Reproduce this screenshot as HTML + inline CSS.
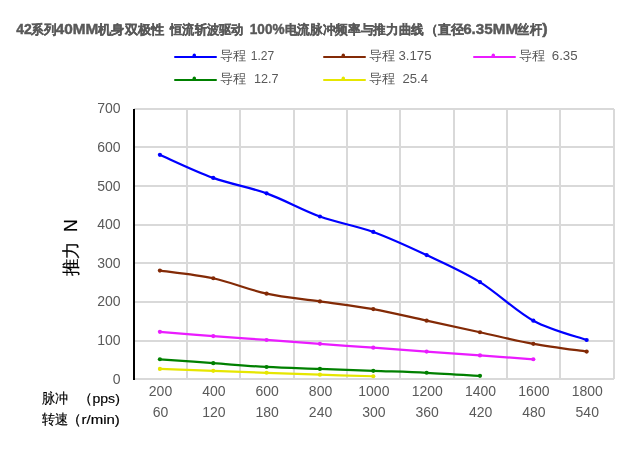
<!DOCTYPE html>
<html><head><meta charset="utf-8"><style>
html,body{margin:0;padding:0;background:#fff;}
body{width:640px;height:450px;overflow:hidden;position:relative;font-family:"Liberation Sans",sans-serif;}
svg{position:absolute;left:0;top:0;will-change:transform;}
.ax{font-size:14px;fill:#595959;}
.lg{font-size:13px;fill:#595959;}
.tt{font-size:13px;font-weight:bold;fill:#595959;stroke:#595959;stroke-width:0.3px;}
.ttl{font-size:14.6px;font-weight:bold;fill:#595959;stroke:#595959;stroke-width:0.45px;}
.bk{font-size:13.5px;fill:#000;stroke:#000;stroke-width:0.2px;}
.yt{font-size:17.5px;fill:#000;stroke:#000;stroke-width:0.2px;}
</style></head><body>
<svg width="640" height="450" viewBox="0 0 640 450">
<text x="16.30" y="34.20" class="ttl" textLength="15.50" lengthAdjust="spacingAndGlyphs" xml:space="preserve">42</text>
<text x="31.30" y="33.90" class="tt" textLength="25.10" lengthAdjust="spacingAndGlyphs" xml:space="preserve">系列</text>
<text x="55.65" y="34.20" class="ttl" textLength="42.65" lengthAdjust="spacingAndGlyphs" xml:space="preserve">40MM</text>
<text x="98.00" y="33.90" class="tt" textLength="66.25" lengthAdjust="spacingAndGlyphs" xml:space="preserve">机身双极性</text>
<text x="170.10" y="33.90" class="tt" textLength="73.50" lengthAdjust="spacingAndGlyphs" xml:space="preserve">恒流斩波驱动</text>
<text x="249.80" y="34.20" class="ttl" textLength="34.70" lengthAdjust="spacingAndGlyphs" xml:space="preserve">100%</text>
<text x="284.75" y="33.90" class="tt" textLength="139.25" lengthAdjust="spacingAndGlyphs" xml:space="preserve">电流脉冲频率与推力曲线</text>
<text x="424.60" y="33.90" class="tt" textLength="12.90" lengthAdjust="spacingAndGlyphs" xml:space="preserve">（</text>
<text x="437.60" y="33.90" class="tt" textLength="25.90" lengthAdjust="spacingAndGlyphs" xml:space="preserve">直径</text>
<text x="463.15" y="34.20" class="ttl" textLength="54.90" lengthAdjust="spacingAndGlyphs" xml:space="preserve">6.35MM</text>
<text x="517.25" y="33.90" class="tt" textLength="24.50" lengthAdjust="spacingAndGlyphs" xml:space="preserve">丝杆</text>
<text x="542.30" y="34.20" class="ttl" textLength="5.40" lengthAdjust="spacingAndGlyphs" xml:space="preserve">)</text>
<rect x="134" y="378" width="480" height="2" fill="#d9d9d9"/>
<rect x="134" y="340" width="480" height="2" fill="#d9d9d9"/>
<rect x="134" y="301" width="480" height="2" fill="#d9d9d9"/>
<rect x="134" y="262" width="480" height="2" fill="#d9d9d9"/>
<rect x="134" y="224" width="480" height="2" fill="#d9d9d9"/>
<rect x="134" y="185" width="480" height="2" fill="#d9d9d9"/>
<rect x="134" y="146" width="480" height="2" fill="#d9d9d9"/>
<rect x="134" y="108" width="480" height="2" fill="#d9d9d9"/>
<rect x="186" y="109" width="2" height="270" fill="#d9d9d9"/>
<rect x="239" y="109" width="2" height="270" fill="#d9d9d9"/>
<rect x="293" y="109" width="2" height="270" fill="#d9d9d9"/>
<rect x="346" y="109" width="2" height="270" fill="#d9d9d9"/>
<rect x="399" y="109" width="2" height="270" fill="#d9d9d9"/>
<rect x="453" y="109" width="2" height="270" fill="#d9d9d9"/>
<rect x="506" y="109" width="2" height="270" fill="#d9d9d9"/>
<rect x="559" y="109" width="2" height="270" fill="#d9d9d9"/>
<rect x="613" y="109" width="2" height="270" fill="#d9d9d9"/>
<rect x="133" y="109" width="2" height="271" fill="#000"/>
<path d="M159.90,154.78 C168.79,158.64 195.47,171.50 213.25,177.93 C231.03,184.36 248.81,186.93 266.59,193.36 C284.38,199.79 302.16,210.08 319.94,216.51 C337.72,222.94 355.50,225.51 373.28,231.95 C391.07,238.38 408.85,246.74 426.63,255.09 C444.41,263.45 462.19,271.17 479.98,282.10 C497.76,293.03 515.54,311.04 533.32,320.69 C551.10,330.33 577.78,336.76 586.67,339.98" fill="none" stroke="#0000ff" stroke-width="2.25" stroke-linecap="round"/>
<circle cx="159.90" cy="154.78" r="2.1" fill="#0000ff"/>
<circle cx="213.25" cy="177.93" r="2.1" fill="#0000ff"/>
<circle cx="266.59" cy="193.36" r="2.1" fill="#0000ff"/>
<circle cx="319.94" cy="216.51" r="2.1" fill="#0000ff"/>
<circle cx="373.28" cy="231.95" r="2.1" fill="#0000ff"/>
<circle cx="426.63" cy="255.09" r="2.1" fill="#0000ff"/>
<circle cx="479.98" cy="282.10" r="2.1" fill="#0000ff"/>
<circle cx="533.32" cy="320.69" r="2.1" fill="#0000ff"/>
<circle cx="586.67" cy="339.98" r="2.1" fill="#0000ff"/>
<path d="M159.90,270.53 C168.79,271.81 195.47,274.39 213.25,278.24 C231.03,282.10 248.81,289.82 266.59,293.68 C284.38,297.54 302.16,298.82 319.94,301.39 C337.72,303.97 355.50,305.90 373.28,309.11 C391.07,312.33 408.85,316.83 426.63,320.69 C444.41,324.54 462.19,328.40 479.98,332.26 C497.76,336.12 515.54,340.62 533.32,343.84 C551.10,347.05 577.78,350.27 586.67,351.55" fill="none" stroke="#832a06" stroke-width="2.25" stroke-linecap="round"/>
<circle cx="159.90" cy="270.53" r="2.1" fill="#832a06"/>
<circle cx="213.25" cy="278.24" r="2.1" fill="#832a06"/>
<circle cx="266.59" cy="293.68" r="2.1" fill="#832a06"/>
<circle cx="319.94" cy="301.39" r="2.1" fill="#832a06"/>
<circle cx="373.28" cy="309.11" r="2.1" fill="#832a06"/>
<circle cx="426.63" cy="320.69" r="2.1" fill="#832a06"/>
<circle cx="479.98" cy="332.26" r="2.1" fill="#832a06"/>
<circle cx="533.32" cy="343.84" r="2.1" fill="#832a06"/>
<circle cx="586.67" cy="351.55" r="2.1" fill="#832a06"/>
<path d="M159.90,331.87 C168.79,332.58 195.47,334.77 213.25,336.12 C231.03,337.47 248.81,338.69 266.59,339.98 C284.38,341.26 302.16,342.55 319.94,343.84 C337.72,345.12 355.50,346.41 373.28,347.69 C391.07,348.98 408.85,350.27 426.63,351.55 C444.41,352.84 462.19,354.12 479.98,355.41 C497.76,356.70 524.43,358.63 533.32,359.27" fill="none" stroke="#ea1cff" stroke-width="2.25" stroke-linecap="round"/>
<circle cx="159.90" cy="331.87" r="2.1" fill="#ea1cff"/>
<circle cx="213.25" cy="336.12" r="2.1" fill="#ea1cff"/>
<circle cx="266.59" cy="339.98" r="2.1" fill="#ea1cff"/>
<circle cx="319.94" cy="343.84" r="2.1" fill="#ea1cff"/>
<circle cx="373.28" cy="347.69" r="2.1" fill="#ea1cff"/>
<circle cx="426.63" cy="351.55" r="2.1" fill="#ea1cff"/>
<circle cx="479.98" cy="355.41" r="2.1" fill="#ea1cff"/>
<circle cx="533.32" cy="359.27" r="2.1" fill="#ea1cff"/>
<path d="M159.90,359.27 C168.79,359.91 195.47,361.84 213.25,363.13 C231.03,364.41 248.81,366.02 266.59,366.99 C284.38,367.95 302.16,368.27 319.94,368.91 C337.72,369.56 355.50,370.20 373.28,370.84 C391.07,371.49 408.85,371.94 426.63,372.77 C444.41,373.61 471.09,375.34 479.98,375.86" fill="none" stroke="#008000" stroke-width="2.25" stroke-linecap="round"/>
<circle cx="159.90" cy="359.27" r="2.1" fill="#008000"/>
<circle cx="213.25" cy="363.13" r="2.1" fill="#008000"/>
<circle cx="266.59" cy="366.99" r="2.1" fill="#008000"/>
<circle cx="319.94" cy="368.91" r="2.1" fill="#008000"/>
<circle cx="373.28" cy="370.84" r="2.1" fill="#008000"/>
<circle cx="426.63" cy="372.77" r="2.1" fill="#008000"/>
<circle cx="479.98" cy="375.86" r="2.1" fill="#008000"/>
<path d="M159.90,368.91 C168.79,369.24 195.47,370.20 213.25,370.84 C231.03,371.49 248.81,372.13 266.59,372.77 C284.38,373.42 302.16,374.12 319.94,374.70 C337.72,375.28 364.39,375.99 373.28,376.25" fill="none" stroke="#e6e600" stroke-width="2.25" stroke-linecap="round"/>
<circle cx="159.90" cy="368.91" r="2.1" fill="#e6e600"/>
<circle cx="213.25" cy="370.84" r="2.1" fill="#e6e600"/>
<circle cx="266.59" cy="372.77" r="2.1" fill="#e6e600"/>
<circle cx="319.94" cy="374.70" r="2.1" fill="#e6e600"/>
<circle cx="373.28" cy="376.25" r="2.1" fill="#e6e600"/>
<text x="120.6" y="383.56" text-anchor="end" class="ax">0</text>
<text x="120.6" y="344.98" text-anchor="end" class="ax">100</text>
<text x="120.6" y="306.39" text-anchor="end" class="ax">200</text>
<text x="120.6" y="267.81" text-anchor="end" class="ax">300</text>
<text x="120.6" y="229.23" text-anchor="end" class="ax">400</text>
<text x="120.6" y="190.65" text-anchor="end" class="ax">500</text>
<text x="120.6" y="152.06" text-anchor="end" class="ax">600</text>
<text x="120.6" y="113.48" text-anchor="end" class="ax">700</text>
<text x="160.50" y="396.1" text-anchor="middle" class="ax">200</text>
<text x="160.50" y="417.2" text-anchor="middle" class="ax">60</text>
<text x="213.85" y="396.1" text-anchor="middle" class="ax">400</text>
<text x="213.85" y="417.2" text-anchor="middle" class="ax">120</text>
<text x="267.19" y="396.1" text-anchor="middle" class="ax">600</text>
<text x="267.19" y="417.2" text-anchor="middle" class="ax">180</text>
<text x="320.54" y="396.1" text-anchor="middle" class="ax">800</text>
<text x="320.54" y="417.2" text-anchor="middle" class="ax">240</text>
<text x="373.88" y="396.1" text-anchor="middle" class="ax">1000</text>
<text x="373.88" y="417.2" text-anchor="middle" class="ax">300</text>
<text x="427.23" y="396.1" text-anchor="middle" class="ax">1200</text>
<text x="427.23" y="417.2" text-anchor="middle" class="ax">360</text>
<text x="480.58" y="396.1" text-anchor="middle" class="ax">1400</text>
<text x="480.58" y="417.2" text-anchor="middle" class="ax">420</text>
<text x="533.92" y="396.1" text-anchor="middle" class="ax">1600</text>
<text x="533.92" y="417.2" text-anchor="middle" class="ax">480</text>
<text x="587.27" y="396.1" text-anchor="middle" class="ax">1800</text>
<text x="587.27" y="417.2" text-anchor="middle" class="ax">540</text>
<line x1="175.0" y1="57.0" x2="216.0" y2="57.0" stroke="#0000ff" stroke-width="2" stroke-linecap="round"/>
<circle cx="194.3" cy="55.2" r="1.7" fill="#0000ff"/>
<text x="219.75" y="60.20" class="lg" textLength="26.35" lengthAdjust="spacingAndGlyphs" xml:space="preserve">导程</text>
<text x="250.75" y="60.20" class="lg" textLength="23.50" lengthAdjust="spacingAndGlyphs" xml:space="preserve">1.27</text>
<line x1="324.0" y1="57.0" x2="365.0" y2="57.0" stroke="#832a06" stroke-width="2" stroke-linecap="round"/>
<circle cx="343.3" cy="55.2" r="1.7" fill="#832a06"/>
<text x="369.25" y="60.20" class="lg" textLength="26.35" lengthAdjust="spacingAndGlyphs" xml:space="preserve">导程</text>
<text x="398.50" y="60.20" class="lg" textLength="33.00" lengthAdjust="spacingAndGlyphs" xml:space="preserve">3.175</text>
<line x1="474.0" y1="57.0" x2="515.0" y2="57.0" stroke="#ea1cff" stroke-width="2" stroke-linecap="round"/>
<circle cx="493.3" cy="55.2" r="1.7" fill="#ea1cff"/>
<text x="518.90" y="60.20" class="lg" textLength="26.35" lengthAdjust="spacingAndGlyphs" xml:space="preserve">导程</text>
<text x="551.75" y="60.20" class="lg" textLength="25.85" lengthAdjust="spacingAndGlyphs" xml:space="preserve">6.35</text>
<line x1="175.0" y1="80.0" x2="216.0" y2="80.0" stroke="#008000" stroke-width="2" stroke-linecap="round"/>
<circle cx="194.3" cy="78.2" r="1.7" fill="#008000"/>
<text x="219.75" y="82.70" class="lg" textLength="26.35" lengthAdjust="spacingAndGlyphs" xml:space="preserve">导程</text>
<text x="253.90" y="82.70" class="lg" textLength="24.70" lengthAdjust="spacingAndGlyphs" xml:space="preserve">12.7</text>
<line x1="324.0" y1="80.0" x2="365.0" y2="80.0" stroke="#e6e600" stroke-width="2" stroke-linecap="round"/>
<circle cx="343.3" cy="78.2" r="1.7" fill="#e6e600"/>
<text x="369.25" y="82.70" class="lg" textLength="26.35" lengthAdjust="spacingAndGlyphs" xml:space="preserve">导程</text>
<text x="402.60" y="82.70" class="lg" textLength="25.40" lengthAdjust="spacingAndGlyphs" xml:space="preserve">25.4</text>
<g transform="translate(76.9,276.8) rotate(-90)">
<text x="0.5" y="0" class="yt" textLength="35" lengthAdjust="spacingAndGlyphs">推力</text>
<text x="44.8" y="0" class="yt">N</text>
</g>
<text x="42.00" y="402.60" class="bk" textLength="26.30" lengthAdjust="spacingAndGlyphs" xml:space="preserve">脉冲</text><text x="78.00" y="402.60" class="bk" textLength="41.80" lengthAdjust="spacingAndGlyphs" xml:space="preserve">（pps)</text><text x="42.00" y="424.30" class="bk" textLength="26.30" lengthAdjust="spacingAndGlyphs" xml:space="preserve">转速</text><text x="66.00" y="424.30" class="bk" textLength="53.80" lengthAdjust="spacingAndGlyphs" xml:space="preserve">（r/min)</text>
</svg>
</body></html>
